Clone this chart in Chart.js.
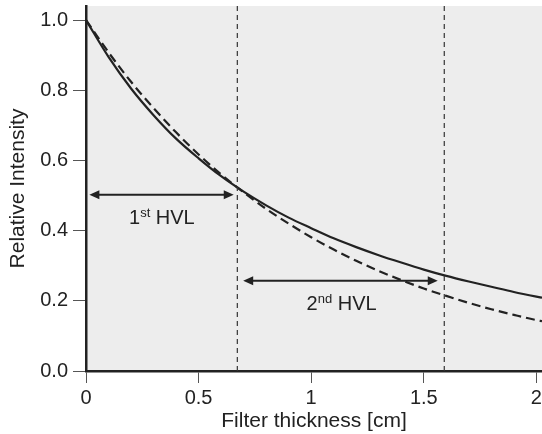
<!DOCTYPE html>
<html><head><meta charset="utf-8">
<script src="https://cdn.jsdelivr.net/npm/chart.js@4/dist/chart.umd.min.js"></script>
<style>html,body{margin:0;padding:0;background:#fff}#wrap{width:542px;height:434px}</style>
</head><body><div id="wrap"><canvas id="c" width="542" height="434"></canvas></div>
<script>
// Filter thickness in cm
const thickness = [0, 0.1, 0.2, 0.3, 0.4, 0.5, 0.6, 0.7, 0.8, 0.9, 1.0, 1.1, 1.2, 1.3, 1.4, 1.5, 1.6, 1.7, 1.8, 1.9, 2.0, 2.025];
// Solid curve (polyenergetic beam)
const polyIntensity = [1.000, 0.895, 0.805, 0.729, 0.662, 0.606, 0.555, 0.511, 0.472, 0.437, 0.407, 0.378, 0.353, 0.330, 0.309, 0.289, 0.271, 0.255, 0.240, 0.225, 0.212, 0.209];
// Dashed curve (monoenergetic beam)
const monoIntensity = [1.000, 0.908, 0.824, 0.749, 0.680, 0.617, 0.560, 0.509, 0.462, 0.420, 0.381, 0.346, 0.314, 0.285, 0.259, 0.235, 0.214, 0.194, 0.176, 0.160, 0.145, 0.142];
// HVL marker lines
const hvlThickness = [0.672, 1.591];
// Arrows
const arrowStart = [0.015, 0.698];
const arrowEnd = [0.656, 1.562];
const arrowLevel = [0.502, 0.257];
// Arrow labels
const labelNum = ['1', '2'];
const labelSup = ['st', 'nd'];
const labelText = ' HVL';
const labelX = [0.337, 1.135];
const labelY = [0.44, 0.194];
const xTicks = [0, 0.5, 1, 1.5, 2];
const yTicks = [0, 0.2, 0.4, 0.6, 0.8, 1.0];
const xMax = 2.025, yMax = 1.04;

const FONT = "'Liberation Sans', Arial, Helvetica, sans-serif";
const INK = '#222';

const bgPlugin = {
  id: 'bg',
  beforeDraw(chart) {
    const {ctx, chartArea: a} = chart;
    ctx.save();
    ctx.fillStyle = '#ededed';
    ctx.fillRect(a.left, a.top, a.right - a.left, a.bottom - a.top);
    ctx.restore();
  }
};

const annoPlugin = {
  id: 'anno',
  afterDatasetsDraw(chart) {
    const {ctx, scales: {x, y}} = chart;
    ctx.save();
    ctx.strokeStyle = INK;
    ctx.fillStyle = INK;
    ctx.lineWidth = 2;
    const head = 10, half = 4.5;
    for (let i = 0; i < arrowStart.length; i++) {
      const x0 = x.getPixelForValue(arrowStart[i]);
      const x1 = x.getPixelForValue(arrowEnd[i]);
      const yy = y.getPixelForValue(arrowLevel[i]);
      ctx.beginPath();
      ctx.moveTo(x0 + head - 1, yy);
      ctx.lineTo(x1 - head + 1, yy);
      ctx.stroke();
      ctx.beginPath();
      ctx.moveTo(x0, yy); ctx.lineTo(x0 + head, yy - half); ctx.lineTo(x0 + head, yy + half); ctx.closePath();
      ctx.fill();
      ctx.beginPath();
      ctx.moveTo(x1, yy); ctx.lineTo(x1 - head, yy - half); ctx.lineTo(x1 - head, yy + half); ctx.closePath();
      ctx.fill();
    }
    // labels
    ctx.textBaseline = 'alphabetic';
    ctx.textAlign = 'left';
    for (let i = 0; i < labelNum.length; i++) {
      const big = '20px ' + FONT, small = '13px ' + FONT;
      ctx.font = big; const w1 = ctx.measureText(labelNum[i]).width;
      const w3 = ctx.measureText(labelText).width;
      ctx.font = small; const w2 = ctx.measureText(labelSup[i]).width;
      const total = w1 + w2 + w3;
      const cx = x.getPixelForValue(labelX[i]);
      const cy = y.getPixelForValue(labelY[i]);
      let px = cx - total / 2;
      const base = cy + 7;
      ctx.font = big; ctx.fillText(labelNum[i], px, base); px += w1;
      ctx.font = small; ctx.fillText(labelSup[i], px, base - 7); px += w2;
      ctx.font = big; ctx.fillText(labelText, px, base);
    }
    ctx.restore();
  }
};

const toPts = (xs, ys) => xs.map((v, i) => ({x: v, y: ys[i]}));

const datasets = [
  ...hvlThickness.map(h => ({
    data: [{x: h, y: 0}, {x: h, y: yMax}],
    borderColor: '#333', borderWidth: 1.2, borderDash: [5, 4], pointRadius: 0, fill: false
  })),
  {
    data: toPts(thickness, monoIntensity),
    borderColor: INK, borderWidth: 2.2, borderDash: [9, 5], pointRadius: 0, fill: false,
    cubicInterpolationMode: 'monotone'
  },
  {
    data: toPts(thickness, polyIntensity),
    borderColor: INK, borderWidth: 2.2, pointRadius: 0, fill: false,
    cubicInterpolationMode: 'monotone'
  }
];

new Chart(document.getElementById('c'), {
  type: 'line',
  data: {datasets},
  plugins: [bgPlugin, annoPlugin],
  options: {
    responsive: false, animation: false, devicePixelRatio: 1,
    layout: {padding: {top: 6, right: 0, left: 0, bottom: 0}},
    plugins: {legend: {display: false}, tooltip: {enabled: false}},
    scales: {
      x: {
        type: 'linear', min: 0, max: xMax,
        afterBuildTicks(s) { s.ticks = xTicks.map(v => ({value: v})); },
        ticks: {font: {family: FONT, size: 20}, color: INK, padding: 3, maxRotation: 0,
          callback: v => String(v)},
        grid: {drawOnChartArea: false, drawTicks: true, tickLength: 12, color: '#555', lineWidth: 1},
        border: {display: true, color: INK, width: 2.5},
        title: {display: true, text: 'Filter thickness [cm]', font: {family: FONT, size: 21}, color: INK, padding: {top: 0, bottom: 0}},
        afterFit(s) { s.height = 63; s.paddingLeft = 0; s.paddingRight = 0; }
      },
      y: {
        min: 0, max: yMax,
        afterBuildTicks(s) { s.ticks = yTicks.map(v => ({value: v})); },
        ticks: {font: {family: FONT, size: 20}, color: INK, padding: 5, callback: v => Number(v).toFixed(1)},
        grid: {drawOnChartArea: false, drawTicks: true, tickLength: 13, color: '#555', lineWidth: 1},
        border: {display: true, color: INK, width: 2.5},
        title: {display: true, text: 'Relative Intensity', font: {family: FONT, size: 21}, color: INK, padding: {top: 6, bottom: 0}},
        afterFit(s) { s.width = 86; s.paddingTop = 0; s.paddingBottom = 0; }
      }
    }
  }
});
</script></body></html>
